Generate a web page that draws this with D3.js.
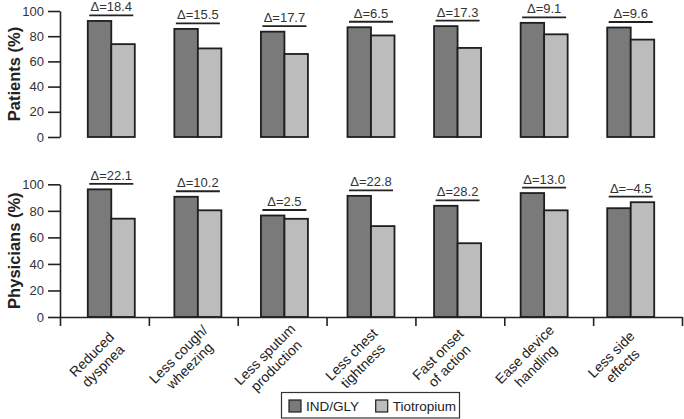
<!DOCTYPE html>
<html>
<head>
<meta charset="utf-8">
<script src="https://cdn.jsdelivr.net/npm/d3@7"></script>
<style>
  html, body { margin: 0; padding: 0; background: #fff; }
  svg { display: block; font-family: "Liberation Sans", Arial, Helvetica, sans-serif; }
</style>
</head>
<body>
<svg id="chart" width="684" height="419"></svg>
<script>
const categories = [
  ["Reduced", "dyspnea"],
  ["Less cough/", "wheezing"],
  ["Less sputum", "production"],
  ["Less chest", "tightness"],
  ["Fast onset", "of action"],
  ["Ease device", "handling"],
  ["Less side", "effects"]
];
const seriesNames = ["IND/GLY", "Tiotropium"];
const patientsIND = [92.1, 85.8, 83.6, 87.1, 88.0, 90.6, 86.9];
const patientsTio = [73.7, 70.3, 65.9, 80.6, 70.7, 81.5, 77.3];
const patientsDelta = ["18.4", "15.5", "17.7", "6.5", "17.3", "9.1", "9.6"];
const physiciansIND = [96.2, 90.6, 76.5, 91.3, 83.8, 93.4, 82.0];
const physiciansTio = [74.1, 80.4, 74.0, 68.5, 55.6, 80.4, 86.5];
const physiciansDelta = ["22.1", "10.2", "2.5", "22.8", "28.2", "13.0", "\u20134.5"];
const yTicks = [0, 20, 40, 60, 80, 100];

const svg = d3.select("#chart");
const colors = { "IND/GLY": "#7a7a7a", "Tiotropium": "#bcbcbc" };
const strokeCol = "#1e1e1e";
const catKeys = categories.map((c, i) => i);

const xBar = d3.scaleBand().domain(catKeys).range([68, 674]).paddingInner(0.457).paddingOuter(0.2285);
const x1 = d3.scaleBand().domain(seriesNames).range([0, xBar.bandwidth()]);
const xAxisScale = d3.scaleLinear().domain([0, categories.length]).range([60, 682]);

function panel(yRange, ind, tio, deltas, label) {
  const y = d3.scaleLinear().domain([0, 100]).range(yRange);
  const g = svg.append("g");
  const ya = g.append("g").attr("transform", "translate(60,0)")
    .call(d3.axisLeft(y).tickValues(yTicks).tickSize(12).tickSizeOuter(0).tickPadding(4));
  ya.select(".domain").attr("stroke", "#222").attr("stroke-width", 1.6);
  ya.selectAll(".tick line").attr("stroke", "#222").attr("stroke-width", 1.6);
  ya.selectAll(".tick text").attr("font-size", 13).attr("fill", "#333")
    .attr("font-family", "'Liberation Sans', Arial, sans-serif");

  g.append("text")
    .attr("transform", `translate(20,${(yRange[0] + yRange[1]) / 2}) rotate(-90)`)
    .attr("text-anchor", "middle")
    .attr("font-size", 16.5).attr("font-weight", "bold").attr("fill", "#222")
    .text(label);

  catKeys.forEach(i => {
    const vals = [ind[i], tio[i]];
    const cg = g.append("g").attr("transform", `translate(${xBar(i)},0)`);
    cg.selectAll("rect").data(seriesNames.map((s, k) => ({ s, v: vals[k] })))
      .join("rect")
      .attr("x", d => x1(d.s))
      .attr("y", d => y(d.v))
      .attr("width", x1.bandwidth())
      .attr("height", d => y(0) - y(d.v))
      .attr("fill", d => colors[d.s])
      .attr("stroke", strokeCol).attr("stroke-width", 1.8);
    const cx = xBar(i) + xBar.bandwidth() / 2;
    const ly = y(Math.max(ind[i], tio[i])) - 5.5;
    g.append("line").attr("x1", cx - 22).attr("x2", cx + 22).attr("y1", ly).attr("y2", ly)
      .attr("stroke", "#222").attr("stroke-width", 1.8);
    g.append("text").attr("x", cx).attr("y", ly - 4).attr("text-anchor", "middle")
      .attr("font-size", 13).attr("fill", "#333").text("\u0394=" + deltas[i]);
  });
  return y;
}

panel([137, 11], patientsIND, patientsTio, patientsDelta, "Patients (%)");
const yB = panel([317, 184.3], physiciansIND, physiciansTio, physiciansDelta, "Physicians (%)");

const xa = svg.append("g").attr("transform", `translate(0,${yB(0)})`)
  .call(d3.axisBottom(xAxisScale).tickValues(d3.range(categories.length + 1)).tickFormat("").tickSize(9).tickSizeOuter(0));
xa.select(".domain").attr("stroke", "#222").attr("stroke-width", 1.6);
xa.selectAll(".tick line").attr("stroke", "#222").attr("stroke-width", 1.6);

catKeys.forEach(i => {
  const cx = xBar(i) + xBar.bandwidth() / 2 - 14;
  const t = svg.append("text")
    .attr("transform", `translate(${cx},360) rotate(-45)`)
    .attr("text-anchor", "middle").attr("font-size", 14).attr("fill", "#222");
  categories[i].forEach((line, k) => {
    t.append("tspan").attr("x", 0).attr("y", (k - 0.5) * 16 + 5).text(line);
  });
});

const lg = svg.append("g");
lg.append("rect").attr("x", 281.5).attr("y", 392.5).attr("width", 178).attr("height", 25.5)
  .attr("fill", "#fff").attr("stroke", "#333").attr("stroke-width", 1.2);
const legendX = [289, 375.7];
seriesNames.forEach((s, k) => {
  lg.append("rect").attr("x", legendX[k]).attr("y", 400).attr("width", 12).attr("height", 12)
    .attr("fill", colors[s]).attr("stroke", strokeCol).attr("stroke-width", 1.2);
  lg.append("text").attr("x", legendX[k] + 17).attr("y", 411).attr("font-size", 13.5)
    .attr("fill", "#222").text(s);
});
</script>
</body>
</html>
